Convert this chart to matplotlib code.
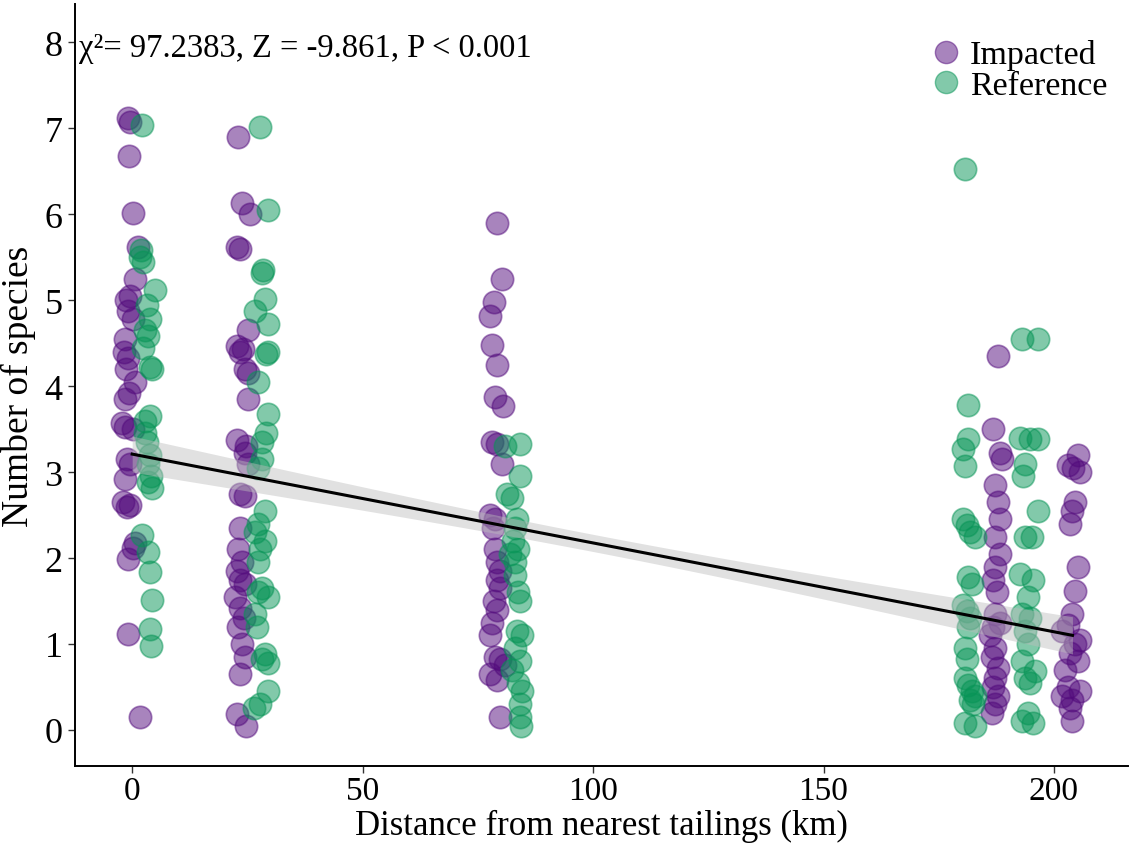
import matplotlib
matplotlib.use("Agg")
import matplotlib.pyplot as plt
from matplotlib.lines import Line2D
import numpy as np

# ---------------- data ----------------
imp_x = [
    # site ~0 km
    -0.9, -0.4, -0.7, 0.2, 1.3, 0.7, -0.4, -1.3, -0.9, 0.2, -1.5, -1.7, -0.9, -1.3, 0.7, -0.7,
    -1.5, -2.2, -1.5, 0.2, -1.1, -0.4, -1.5, -2.0, -0.4, -1.1, 0.7, 0.2, -0.9, -0.9, 1.7,
    # site ~24 km
    23.0, 23.9, 25.6, 22.8, 23.4, 25.2, 22.8, 24.1, 23.4, 24.5, 25.2, 25.2, 22.8, 24.7, 24.5,
    25.2, 23.4, 24.5, 23.4, 23.0, 23.9, 22.8, 23.4, 24.5, 22.3, 23.4, 24.3, 23.0, 23.9, 24.5,
    23.4, 22.8, 24.7,
    # site ~80 km
    79.2, 80.3, 78.5, 77.7, 78.1, 79.2, 78.7, 80.5, 78.1, 79.2, 80.3, 77.7, 78.7, 78.3, 78.7,
    79.2, 79.8, 79.2, 79.8, 78.5, 79.2, 78.1, 77.7, 78.7, 79.8, 80.9, 77.7, 79.2, 79.8,
    # site ~185 km
    187.9, 186.8, 188.3, 188.7, 187.2, 187.9, 188.3, 187.2, 188.3, 187.2, 186.8, 187.6, 187.2,
    188.3, 186.8, 186.1, 187.2, 186.6, 187.9, 187.2, 186.8, 187.9, 187.2, 186.6,
    # site ~204 km
    205.2, 203.0, 204.1, 205.6, 204.6, 203.9, 203.5, 205.2, 204.6, 203.9, 203.0, 201.7, 205.6,
    204.6, 203.5, 205.2, 202.4, 203.0, 205.6, 203.9, 203.5, 203.9, 201.7,
]
imp_y = [
    7.12, 7.08, 6.68, 6.02, 5.62, 5.25, 5.05, 5.00, 4.88, 4.78, 4.55, 4.40, 4.33, 4.20, 4.05, 3.92,
    3.85, 3.57, 3.53, 3.50, 3.15, 3.10, 2.92, 2.65, 2.62, 2.60, 2.17, 2.12, 1.99, 1.12, 0.15,
    6.90, 6.13, 6.00, 5.62, 5.60, 4.65, 4.47, 4.43, 4.40, 4.20, 4.15, 3.85, 3.37, 3.30, 3.22,
    3.10, 2.75, 2.72, 2.35, 2.10, 1.95, 1.85, 1.75, 1.70, 1.55, 1.42, 1.30, 1.20, 1.00, 0.85,
    0.65, 0.18, 0.05,
    5.90, 5.25, 4.98, 4.82, 4.48, 4.25, 3.88, 3.77, 3.35, 3.33, 3.10, 2.50, 2.45, 2.35, 2.10,
    1.95, 1.85, 1.75, 1.65, 1.50, 1.40, 1.25, 1.10, 0.85, 0.82, 0.75, 0.65, 0.58, 0.15,
    4.35, 3.50, 3.22, 3.15, 2.85, 2.65, 2.45, 2.25, 2.05, 1.90, 1.75, 1.60, 1.35,
    1.25, 1.20, 1.10, 0.95, 0.85, 0.72, 0.60, 0.50, 0.40, 0.30, 0.20,
    3.20, 3.08, 3.05, 3.00, 2.65, 2.55, 2.40, 1.90, 1.62, 1.35, 1.22, 1.15, 1.05,
    1.00, 0.90, 0.80, 0.70, 0.50, 0.45, 0.35, 0.25, 0.10, 0.40,
]
ref_x = [
    # site ~0 km
    2.2, 2.0, 1.7, 2.4, 5.0, 3.3, 3.9, 2.8, 3.5, 2.4, 3.9, 4.3, 3.9, 2.8, 2.8, 3.3, 3.9, 3.5,
    4.1, 3.5, 4.3, 2.2, 3.5, 3.9, 4.3, 3.9, 4.1,
    # site ~24 km
    27.8, 29.5, 28.4, 28.2, 28.9, 26.7, 29.5, 29.5, 29.1, 27.3, 29.5, 29.1, 28.2, 28.2, 27.3,
    28.9, 27.3, 26.7, 28.9, 27.8, 27.3, 28.2, 27.3, 29.5, 26.7, 27.1, 28.9, 28.2, 29.5, 29.5,
    27.8, 26.5,
    # site ~80 km
    84.2, 80.9, 84.2, 81.3, 82.4, 83.5, 83.1, 82.6, 83.7, 82.0, 83.1, 83.1, 83.7, 84.2, 83.5,
    84.6, 83.1, 84.2, 82.4, 83.7, 84.6, 84.2, 84.2, 84.4,
    # site ~181 km
    180.7, 181.3, 181.3, 180.3, 180.7, 180.3, 181.1, 181.8, 182.9, 181.3, 182.2, 180.3, 181.1,
    181.8, 181.3, 180.7, 181.1, 180.7, 181.3, 182.2, 182.9, 181.8, 182.4, 180.7, 182.9,
    # site ~195 km
    193.1, 196.5, 192.6, 194.8, 196.5, 193.7, 193.3, 196.5, 193.7, 195.2, 192.6, 195.4, 194.4,
    193.1, 194.8, 193.7, 194.4, 193.1, 195.9, 193.7, 194.8, 194.4, 193.1, 195.4,
]
ref_y = [
    7.04, 5.58, 5.50, 5.45, 5.12, 4.95, 4.78, 4.65, 4.58, 4.45, 4.22, 4.20, 3.65, 3.60, 3.45,
    3.35, 3.20, 3.10, 2.95, 2.88, 2.82, 2.27, 2.07, 1.84, 1.51, 1.17, 0.98,
    7.02, 6.05, 5.35, 5.32, 5.02, 4.88, 4.72, 4.40, 4.38, 4.05, 3.68, 3.45, 3.35, 3.15, 3.05,
    2.55, 2.40, 2.30, 2.20, 2.10, 1.95, 1.65, 1.60, 1.55, 1.35, 1.20, 0.88, 0.82, 0.78, 0.45,
    0.30, 0.25,
    3.33, 3.30, 2.95, 2.75, 2.70, 2.45, 2.35, 2.20, 2.10, 2.05, 1.95, 1.80, 1.60, 1.50, 1.15,
    1.10, 0.95, 0.80, 0.70, 0.55, 0.45, 0.30, 0.15, 0.05,
    6.53, 3.78, 3.38, 3.27, 3.07, 2.45, 2.38, 2.30, 2.25, 1.78, 1.70, 1.45, 1.38,
    1.30, 1.20, 0.95, 0.82, 0.60, 0.52, 0.45, 0.40, 0.35, 0.30, 0.08, 0.05,
    4.55, 4.55, 3.40, 3.38, 3.38, 3.10, 2.95, 2.55, 2.25, 2.25, 1.82, 1.75, 1.55,
    1.35, 1.30, 1.15, 1.00, 0.80, 0.68, 0.60, 0.55, 0.20, 0.10, 0.08,
]

# fitted regression
fit_intercept = 3.21
fit_slope = -0.01034
fit_x_range = [0, 204]
ci_center_x = 100
ci_half_center = 0.10
ci_half_end = 0.21

group_labels = ["Impacted", "Reference"]
annotation = "χ²= 97.2383, Z = -9.861, P < 0.001"
x_label = "Distance from nearest tailings (km)"
y_label = "Number of species"
x_ticks = [0, 50, 100, 150, 200]
y_ticks = [0, 1, 2, 3, 4, 5, 6, 7, 8]

# ---------------- styling ----------------
purple = "#520a7c"
green = "#069456"
plt.rcParams["font.family"] = ["Liberation Serif", "DejaVu Serif"]

fig = plt.figure(figsize=(11.3, 8.45), dpi=100)
ax = fig.add_axes([0.0664, 0.0923, 0.9316, 0.902])

ms = 260
alpha = 0.5
ax.scatter(imp_x, imp_y, s=ms, color=purple, alpha=alpha, linewidths=1.2,
           edgecolors=purple, zorder=2)
ax.scatter(ref_x, ref_y, s=ms, color=green, alpha=alpha, linewidths=1.2,
           edgecolors=green, zorder=2)

xf = np.linspace(fit_x_range[0], fit_x_range[1], 200)
yf = fit_intercept + fit_slope * xf
k2 = (ci_half_end ** 2 - ci_half_center ** 2) / (ci_center_x ** 2)
hw = np.sqrt(ci_half_center ** 2 + k2 * (xf - ci_center_x) ** 2)
ax.fill_between(xf, yf - hw, yf + hw, color="#bdbdbd", alpha=0.45, linewidth=0, zorder=3)
ax.plot(xf, yf, color="black", lw=2.2, zorder=4)

ax.set_xlim(-12.4, 216)
ax.set_ylim(-0.42, 8.45)
ax.set_xticks(x_ticks)
ax.set_yticks(y_ticks)
for s in ["top", "right"]:
    ax.spines[s].set_visible(False)
for s in ["left", "bottom"]:
    ax.spines[s].set_linewidth(1.4)
ax.tick_params(axis="y", labelsize=26, length=5, width=1.0, color="#333333", pad=4)
ax.tick_params(axis="x", labelsize=24, length=5, width=1.0, color="#333333", pad=2)
ax.set_xlabel(x_label, fontsize=25, va="center")
ax.xaxis.set_label_coords(0.5, -0.078)
ax.set_ylabel(y_label, fontsize=27, labelpad=6)

ax.text(0.004, 0.963, annotation, transform=ax.transAxes, fontsize=23.5,
        ha="left", va="top")

handles = [
    Line2D([], [], marker="o", ls="", markersize=16, markerfacecolor=purple,
           markeredgecolor=purple, alpha=alpha, label=group_labels[0]),
    Line2D([], [], marker="o", ls="", markersize=16, markerfacecolor=green,
           markeredgecolor=green, alpha=alpha, label=group_labels[1]),
]
ax.legend(handles=handles, loc="upper right", bbox_to_anchor=(1.0, 0.98), frameon=False,
          fontsize=24.5, handletextpad=0.1, labelspacing=0.0, borderaxespad=0.2,
          handlelength=1.2)

fig.savefig("out.png", dpi=100)
